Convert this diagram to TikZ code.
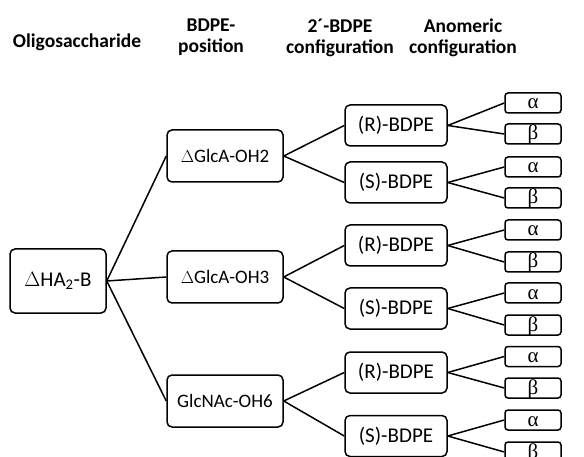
\documentclass[tikz,border=0pt]{standalone}
\usepackage{fontspec}
\setmainfont{Carlito}
\newfontfamily\greekfont{Liberation Serif}
\begin{document}
\begin{tikzpicture}[x=1pt,y=-1pt,
  every node/.style={inner sep=0pt},
  box/.style={draw, line width=1.5pt, rounded corners=5pt, font=\fontsize{19}{21}\selectfont},
  rootbox/.style={box, minimum width=96pt, minimum height=64pt, font=\fontsize{21}{23}\selectfont},
  posbox/.style={box, minimum width=116pt, minimum height=52pt},
  cfgbox/.style={box, minimum width=102pt, minimum height=41pt, font=\fontsize{21}{23}\selectfont},
  anobox/.style={draw, line width=1.5pt, rounded corners=3pt, minimum width=56pt,
     text height=16pt, text depth=4pt, inner ysep=0pt, font=\greekfont\fontsize{21}{21}\selectfont},
  header/.style={align=center, font=\bfseries\fontsize{19.5}{21}\selectfont},
  link/.style={line width=1.5pt}]
\useasboundingbox (0,0) rectangle (584,457);

% headers
\node[header] (h1) at (77,42) {Oligosaccharide};
\node[header] (h2) at (211,37) {BDPE-\\position};
\node[header] (h3) at (340,38) {2´-BDPE\\configuration};
\node[header] (h4) at (463,38) {Anomeric\\configuration};

% root
\node[rootbox] (root) at (58,281) {$\Delta$HA\textsubscript{2}-B};

% positions
\node[posbox] (p1) at (225,156) {$\Delta$GlcA-OH2};
\node[posbox] (p2) at (225,277) {$\Delta$GlcA-OH3};
\node[posbox] (p3) at (225,401) {GlcNAc-OH6};

% configurations
\node[cfgbox] (c1) at (396,125.5) {(R)-BDPE};
\node[cfgbox] (c2) at (396,182.5) {(S)-BDPE};
\node[cfgbox] (c3) at (396,245.5) {(R)-BDPE};
\node[cfgbox] (c4) at (396,308.5) {(S)-BDPE};
\node[cfgbox] (c5) at (396,372.5) {(R)-BDPE};
\node[cfgbox] (c6) at (396,436) {(S)-BDPE};

% anomeric
\node[anobox] (a1) at (533,103) {α};
\node[anobox] (b1) at (533,134) {β};
\node[anobox] (a2) at (533,167) {α};
\node[anobox] (b2) at (533,198) {β};
\node[anobox] (a3) at (533,230) {α};
\node[anobox] (b3) at (533,262) {β};
\node[anobox] (a4) at (533,293) {α};
\node[anobox] (b4) at (533,325) {β};
\node[anobox] (a5) at (533,356.5) {α};
\node[anobox] (b5) at (533,388) {β};
\node[anobox] (a6) at (533,420) {α};
\node[anobox] (b6) at (533,452) {β};

% links
\foreach \p in {p1,p2,p3} \draw[link] (root.east) -- (\p.west);
\draw[link] (p1.east) -- (c1.west);
\draw[link] (p1.east) -- (c2.west);
\draw[link] (p2.east) -- (c3.west);
\draw[link] (p2.east) -- (c4.west);
\draw[link] (p3.east) -- (c5.west);
\draw[link] (p3.east) -- (c6.west);
\foreach \i in {1,...,6} {
  \draw[link] (c\i.east) -- (a\i.west);
  \draw[link] (c\i.east) -- (b\i.west);
}
\end{tikzpicture}
\end{document}
